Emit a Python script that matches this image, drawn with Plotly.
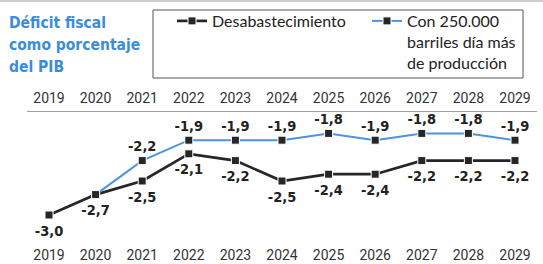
import plotly.graph_objects as go

W, H = 543, 264

years = [2019, 2020, 2021, 2022, 2023, 2024, 2025, 2026, 2027, 2028, 2029]
year_labels = [str(y) for y in years]
desabastecimiento = [-3.0, -2.7, -2.5, -2.1, -2.2, -2.5, -2.4, -2.4, -2.2, -2.2, -2.2]
prod_years = [2020, 2021, 2022, 2023, 2024, 2025, 2026, 2027, 2028, 2029]
produccion = [-2.7, -2.2, -1.9, -1.9, -1.9, -1.8, -1.9, -1.8, -1.8, -1.9]
prod_show_label = [False, True, True, True, True, True, True, True, True, True]

title_lines = ["Déficit fiscal", "como porcentaje", "del PIB"]
name_a = "Desabastecimiento"
name_b = "Con 250.000<br>barriles día más<br>de producción"


def fmt(v):
    return f"{v:.1f}".replace(".", ",")


def px(x):
    return x / W


def py(y):
    return 1 - y / H


BLACK = "#262626"
BLUE = "#4d94dc"
TITLE_BLUE = "#3a8ddb"
LABEL_FONT = dict(family="DejaVu Sans Condensed, sans-serif", size=14.5,
                  color="#222222", weight="bold")

fig = go.Figure()
fig.add_trace(go.Scatter(
    x=years, y=desabastecimiento, name=name_a, mode="lines+markers",
    line=dict(color=BLACK, width=2.7),
    marker=dict(symbol="square", size=8, color=BLACK, line=dict(color="white", width=1)),
))
fig.add_trace(go.Scatter(
    x=prod_years, y=produccion, name=name_b, mode="lines+markers",
    line=dict(color=BLUE, width=2),
    marker=dict(symbol="square", size=8, color=BLACK, line=dict(color="white", width=1)),
))
# value labels (separate traces so the label offset can be tuned)
fig.add_trace(go.Scatter(
    x=years, y=desabastecimiento, mode="markers+text", showlegend=False, hoverinfo="skip",
    marker=dict(size=14, opacity=0),
    text=[fmt(v) for v in desabastecimiento], textposition="bottom center",
    textfont=LABEL_FONT, cliponaxis=False,
))
fig.add_trace(go.Scatter(
    x=prod_years, y=produccion, mode="markers+text", showlegend=False, hoverinfo="skip",
    marker=dict(size=8, opacity=0),
    text=[fmt(v) if s else "" for v, s in zip(produccion, prod_show_label)],
    textposition="top center", textfont=LABEL_FONT, cliponaxis=False,
))
# invisible trace so the top axis is drawn
fig.add_trace(go.Scatter(x=years, y=desabastecimiento, xaxis="x2", mode="none",
                         showlegend=False, hoverinfo="skip"))

tickfont = dict(family="Roboto, Liberation Sans, sans-serif", size=14, color="#333333")
xr = [2018.528, 2029.472]
xdom = [px(27), px(537)]
fig.update_layout(
    width=W, height=H,
    margin=dict(l=0, r=0, t=0, b=0, autoexpand=False),
    paper_bgcolor="white", plot_bgcolor="white",
    xaxis=dict(domain=xdom, range=xr, tickvals=years, ticktext=year_labels, showgrid=False,
               zeroline=False, showline=False, ticks="", tickfont=tickfont,
               ticklabelstandoff=5),
    xaxis2=dict(domain=xdom, range=xr, overlaying="x", side="top", tickvals=years,
                ticktext=year_labels, showgrid=False, zeroline=False, showline=True,
                linecolor="#a0a0a0", linewidth=1, ticks="", tickfont=tickfont,
                ticklabelstandoff=2),
    yaxis=dict(domain=[py(240), py(112)], range=[-3.3676, -1.4853], visible=False),
    showlegend=True,
    legend=dict(orientation="h", x=px(172), y=py(4), xanchor="left", yanchor="top",
                bgcolor="rgba(0,0,0,0)", borderwidth=0, valign="top",
                entrywidth=150, entrywidthmode="pixels",
                font=dict(family="Lato, Liberation Sans, sans-serif", size=16, color="#222222")),
    annotations=[dict(text=t, xref="paper", yref="paper", x=px(7), y=py(yc),
                      xanchor="left", yanchor="middle", align="left", showarrow=False,
                      font=dict(family="DejaVu Sans Condensed, sans-serif",
                                size=15.5, color=TITLE_BLUE, weight="bold"))
                 for t, yc in zip(title_lines, [23, 45, 67])],
    shapes=[
        dict(type="rect", xref="paper", yref="paper", x0=px(153), x1=px(523),
             y0=py(10), y1=py(78), line=dict(color="#555555", width=1)),
        dict(type="line", xref="paper", yref="paper", x0=0, x1=1, y0=py(1), y1=py(1),
             line=dict(color="#9a9a9a", width=1)),
    ],
)

fig.write_html("out.html", config={"displayModeBar": False},
               post_script="document.body.style.margin='0px';")
